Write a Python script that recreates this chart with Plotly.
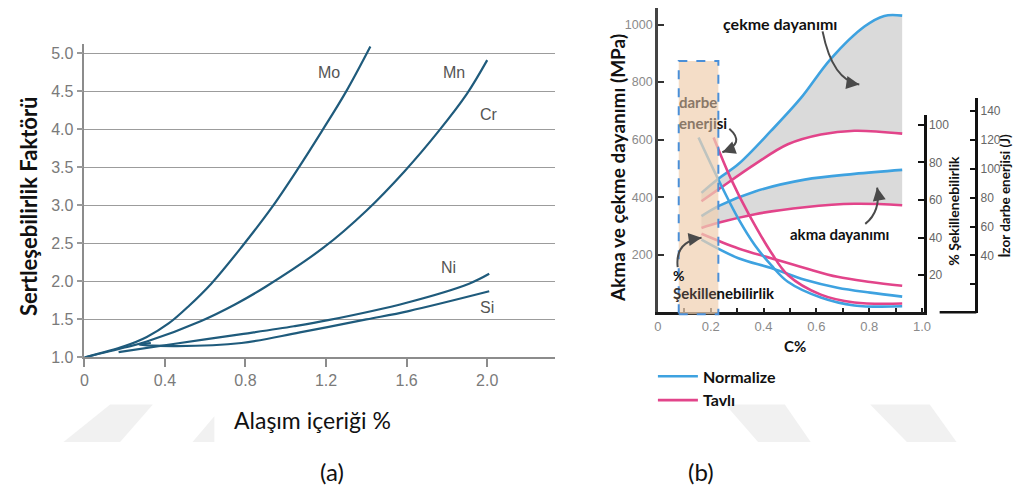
import plotly.graph_objects as go

W, H = 1027, 500


def fx(px):
    return px / W


def fy(py):
    return 1 - py / H


# ---------------- (a) hardenability factor vs. alloy content ----------------
mo_pct = [0.0, 0.20, 0.31, 0.42, 0.52, 0.63, 0.78, 0.93, 1.06, 1.18, 1.30, 1.42]
mo_fac = [1.00, 1.15, 1.27, 1.45, 1.68, 1.97, 2.45, 2.97, 3.48, 3.98, 4.50, 5.09]
mn_pct = [0.0, 0.20, 0.31, 0.58, 0.75, 0.90, 1.19, 1.40, 1.59, 1.76, 1.90, 2.00]
mn_fac = [1.00, 1.13, 1.21, 1.48, 1.70, 1.93, 2.45, 2.93, 3.45, 3.98, 4.47, 4.91]
ni_pct = [0.17, 0.45, 0.79, 1.04, 1.21, 1.60, 1.91, 2.01]
ni_fac = [1.07, 1.18, 1.31, 1.41, 1.49, 1.72, 1.97, 2.10]
si_pct = [0.33, 0.27, 0.46, 0.78, 1.07, 1.40, 1.61, 2.01]
si_fac = [1.19, 1.17, 1.15, 1.19, 1.33, 1.50, 1.61, 1.87]

a_xticks = [0, 0.4, 0.8, 1.2, 1.6, 2.0]
a_xlabels = ["0", "0.4", "0.8", "1.2", "1.6", "2.0"]
a_yticks = [1.0, 1.5, 2.0, 2.5, 3.0, 3.5, 4.0, 4.5, 5.0]
a_ylabels = ["1.0", "1.5", "2.0", "2.5", "3.0", "3.5", "4.0", "4.5", "5.0"]

# element labels: (text, alloy %, factor)
a_labels = [("Mo", 1.216, 4.75), ("Mn", 1.836, 4.75), ("Cr", 2.01, 4.19),
            ("Ni", 1.81, 2.18), ("Si", 2.00, 1.66)]

# ---------------- (b) properties vs. carbon content ----------------
c_norm_tensile = [0.165, 0.229, 0.305, 0.429, 0.541, 0.654, 0.782, 0.857, 0.925]
norm_tensile = [415, 464, 515, 631, 744, 880, 993, 1030, 1031]
c_anl_tensile = [0.165, 0.229, 0.368, 0.492, 0.617, 0.744, 0.925]
anl_tensile = [386, 427, 515, 584, 618, 631, 621]

c_norm_yield = [0.165, 0.229, 0.368, 0.556, 0.744, 0.925]
norm_yield = [334, 369, 420, 461, 481, 495]
c_anl_yield = [0.165, 0.229, 0.368, 0.556, 0.744, 0.925]
anl_yield = [293, 311, 341, 365, 377, 372]

c_form = [0.165, 0.305, 0.429, 0.556, 0.680, 0.804, 0.925]
norm_form = [38.9, 29.0, 23.8, 17.5, 13.3, 10.7, 8.6]
anl_form = [42.0, 34.2, 29.0, 23.8, 19.1, 16.4, 14.4]

c_norm_impact = [0.154, 0.229, 0.305, 0.368, 0.429, 0.492, 0.617, 0.744, 0.925]
norm_impact = [121.7, 92.5, 65.3, 46.9, 33.3, 21.8, 10.9, 5.4, 4.8]
c_anl_impact = [0.211, 0.278, 0.342, 0.429, 0.492, 0.617, 0.744, 0.925]
anl_impact = [121.7, 92.5, 69.3, 42.1, 26.5, 12.9, 7.5, 6.8]

b_xticks = [0, 0.1, 0.2, 0.3, 0.4, 0.5, 0.6, 0.7, 0.8, 0.9, 1.0]
b_xlabels = ["0", "", "0.2", "", "0.4", "", "0.6", "", "0.8", "", "1.0"]
mpa_ticks = [200, 400, 600, 800, 1000]
form_ticks = [20, 40, 60, 80, 100]
impact_ticks = [20, 40, 60, 80, 100, 120, 140]
impact_labels = ["", "40", "60", "80", "100", "120", "140"]

# highlighted low-carbon band (C %)
band_c = [0.079, 0.229]

NAVY = "#1f5b7c"
BLUE = "#3ea2e0"
PINK = "#e2448a"
GREY_FILL = "#dadada"
LABEL_FONT = "Lato, 'Open Sans', sans-serif"
ARIAL = "'Liberation Sans', Arial, sans-serif"

fig = go.Figure()

# ---- (a) curves
for xs, ys in [(mo_pct, mo_fac), (mn_pct, mn_fac), (ni_pct, ni_fac), (si_pct, si_fac)]:
    fig.add_trace(go.Scatter(x=xs, y=ys, mode="lines", xaxis="x", yaxis="y",
                             line=dict(color=NAVY, width=2.2, shape="spline", smoothing=1.0),
                             showlegend=False, hoverinfo="skip"))

# ---- (b) strength curves; the normalized curve is shaded down to the annealed one
sp = dict(width=2.6, shape="spline", smoothing=1.0)
for cn, vn, ca, va in [(c_norm_tensile, norm_tensile, c_anl_tensile, anl_tensile),
                       (c_norm_yield, norm_yield, c_anl_yield, anl_yield)]:
    fig.add_trace(go.Scatter(x=ca, y=va, mode="lines", xaxis="x2", yaxis="y2",
                             line=dict(color=PINK, **sp), showlegend=False, hoverinfo="skip"))
    fig.add_trace(go.Scatter(x=cn, y=vn, mode="lines", xaxis="x2", yaxis="y2",
                             fill="tonexty", fillcolor=GREY_FILL,
                             line=dict(color=BLUE, **sp), showlegend=False, hoverinfo="skip"))

# formability and impact energy on their own scales
fig.add_trace(go.Scatter(x=c_form, y=norm_form, mode="lines", xaxis="x2", yaxis="y3",
                         name="Normalize", legendrank=1, line=dict(color=BLUE, **sp),
                         showlegend=True))
fig.add_trace(go.Scatter(x=c_form, y=anl_form, mode="lines", xaxis="x2", yaxis="y3",
                         name="Tavlı", legendrank=2, line=dict(color=PINK, **sp),
                         showlegend=True))
fig.add_trace(go.Scatter(x=c_norm_impact, y=norm_impact, mode="lines", xaxis="x2", yaxis="y4",
                         line=dict(color=BLUE, **sp), showlegend=False))
fig.add_trace(go.Scatter(x=c_anl_impact, y=anl_impact, mode="lines", xaxis="x2", yaxis="y4",
                         line=dict(color=PINK, **sp), showlegend=False))

# ---- axes
fig.update_layout(
    xaxis=dict(domain=[fx(81), fx(555)], range=[0, 2.335], anchor="y",
               tickvals=a_xticks, ticktext=a_xlabels, ticks="outside", ticklen=8,
               tickcolor="#8c8c8c", tickwidth=1.5, showline=True, linecolor="#8c8c8c",
               linewidth=1.5, showgrid=False, zeroline=False,
               tickfont=dict(family=ARIAL, size=16, color="#7a7a7a")),
    yaxis=dict(domain=[fy(364), fy(45)], range=[1, 5.12], anchor="x",
               tickvals=a_yticks, ticktext=a_ylabels, ticks="outside", ticklen=6,
               tickcolor="#9a9a9a", tickwidth=1.5, showline=True, linecolor="#8c8c8c",
               linewidth=1.5, showgrid=True, gridcolor="#9c9c9c", gridwidth=1.3,
               zeroline=False, tickfont=dict(family=ARIAL, size=16, color="#7a7a7a")),
    xaxis2=dict(domain=[fx(659), fx(930)], range=[0, 1.018], anchor="y2",
                tickvals=b_xticks, ticktext=b_xlabels, ticks="inside", ticklen=5,
                tickwidth=2, tickcolor="#222", showline=True, linecolor="#1a1a1a",
                linewidth=2.5, showgrid=False, zeroline=False,
                tickfont=dict(family=ARIAL, size=13, color="#8a8a8a")),
    yaxis2=dict(domain=[fy(318), fy(8)], range=[0, (318 - 8) / 0.293], anchor="x2",
                tickvals=mpa_ticks, ticks="inside", ticklen=6, tickwidth=2,
                tickcolor="#333", showline=True, linecolor="#444", linewidth=2.5,
                showgrid=False, zeroline=False,
                tickfont=dict(family=ARIAL, size=12.5, color="#8a8a8a")),
    yaxis3=dict(domain=[fy(318.5), fy(117)], range=[0, (318.5 - 117) / 1.915],
                anchor="free", position=fx(928), side="right",
                tickvals=form_ticks, ticks="inside", ticklen=6, tickwidth=2,
                tickcolor="#111", showline=True, linecolor="#111", linewidth=2.5,
                showgrid=False, zeroline=False,
                tickfont=dict(family=ARIAL, size=12, color="#666")),
    yaxis4=dict(domain=[fy(319), fy(100)], range=[0, (319 - 100) / 1.471],
                anchor="free", position=fx(980), side="right",
                tickvals=impact_ticks, ticktext=impact_labels, ticks="inside", ticklen=6,
                tickwidth=2, tickcolor="#111", showline=True, linecolor="#111",
                linewidth=2.5, showgrid=False, zeroline=False,
                tickfont=dict(family=ARIAL, size=12, color="#666")),
)

# ---- shapes: watermark bands, highlight band, curved leader lines
shapes = []


def poly(pts, color):
    d = "M " + " L ".join(f"{fx(x):.5f},{fy(y):.5f}" for x, y in pts) + " Z"
    return dict(type="path", path=d, xref="paper", yref="paper", fillcolor=color,
                line=dict(width=0), layer="below")


for pts in [[(60, 450), (117, 450), (150, 412), (107, 412)],
            [(190, 450), (212, 450), (212, 424)],
            [(760, 450), (813, 450), (787, 412), (727, 412)],
            [(910, 450), (960, 450), (933, 412), (873, 412)]]:
    shapes.append(poly(pts, "#f1f1f1"))

shapes.append(dict(type="rect", xref="x2", yref="paper", x0=band_c[0], x1=band_c[1],
                   y0=fy(320), y1=fy(62), fillcolor="rgba(240,208,178,0.72)",
                   line=dict(color="#4a8fd8", width=2, dash="dash"), layer="above"))

# short base line under the impact-energy axis
shapes.append(dict(type="line", xref="paper", yref="paper", x0=fx(943), x1=fx(980),
                   y0=fy(318), y1=fy(318), line=dict(color="#111", width=2.5)))


def curve(p0, c, p1, color="#4a4a4a"):
    d = (f"M {fx(p0[0]):.5f},{fy(p0[1]):.5f} Q {fx(c[0]):.5f},{fy(c[1]):.5f} "
         f"{fx(p1[0]):.5f},{fy(p1[1]):.5f}")
    return dict(type="path", path=d, xref="paper", yref="paper",
                line=dict(color=color, width=2), layer="above")


leaders = [((825, 32), (835, 82), (862, 86)),
           ((868, 228), (884, 215), (880, 191)),
           ((731, 131), (748, 146), (724, 155)),
           ((679, 272), (676, 246), (703, 242))]
for p0, c, p1 in leaders:
    shapes.append(curve(p0, c, p1))
fig.update_layout(shapes=shapes)

# ---- annotations
ann = []
for txt, xv, yv in a_labels:
    ann.append(dict(text=txt, x=xv, y=yv, xref="x", yref="y", showarrow=False,
                    font=dict(family=ARIAL, size=16, color="#555")))

# arrowheads at the ends of the leader curves
for p0, c, p1 in leaders:
    dx, dy = p1[0] - c[0], p1[1] - c[1]
    n = (dx * dx + dy * dy) ** 0.5
    ann.append(dict(text="", x=fx(p1[0]), y=fy(p1[1]), xref="paper", yref="paper",
                    showarrow=True, arrowhead=2, arrowsize=1.3, arrowwidth=2,
                    arrowcolor="#4a4a4a", ax=-dx / n * 7, ay=-dy / n * 7, standoff=0))


def label(text, x, y, size, xanchor="left", bold=True, color="#111", angle=0, family=LABEL_FONT):
    t = f"<b>{text}</b>" if bold else text
    return dict(text=t, x=fx(x), y=fy(y), xref="paper", yref="paper", showarrow=False,
                xanchor=xanchor, yanchor="middle", textangle=angle,
                font=dict(family=family, size=size, color=color))


ann += [
    label("Sertleşebilirlik Faktörü", 24, 210, 22, xanchor="center", angle=-90),
    label("Alaşım içeriği %", 311, 428, 23, xanchor="center", bold=False),
    label("(a)", 331, 480, 24, xanchor="center", bold=False),
    label("(b)", 702, 480, 24, xanchor="center", bold=False),
    label("Akma ve çekme dayanımı (MPa)", 619, 171, 19, xanchor="center", angle=-90),
    label("% Şekillenebilirlik", 957, 215, 14, xanchor="center", angle=-90),
    label("İzor darbe enerjisi (J)", 1009, 199, 13.5, xanchor="center", angle=-90),
    label("C%", 797, 352, 15, xanchor="center"),
    label("çekme dayanımı", 723, 24, 16),
    label("akma dayanımı", 790, 238, 15),
    label("<span style='color:#8a7868'>darbe</span>", 678, 104, 15),
    label("<span style='color:#8a7868'>enerji</span>si", 678, 125, 15),
    label("%", 672, 281, 14),
    label("<span style='color:#3e3530'>Şekille</span>nebilirlik", 672, 298, 15),
]
fig.update_layout(annotations=ann)

fig.update_layout(
    width=W, height=H, margin=dict(l=0, r=0, t=0, b=0),
    paper_bgcolor="white", plot_bgcolor="rgba(0,0,0,0)",
    showlegend=True,
    legend=dict(x=fx(654), y=fy(366), xanchor="left", yanchor="top",
                bgcolor="rgba(0,0,0,0)", tracegroupgap=0, itemwidth=40,
                traceorder="normal",
                font=dict(family=LABEL_FONT, size=16, color="#111", weight="bold")),
)

fig.write_html("out.html")
